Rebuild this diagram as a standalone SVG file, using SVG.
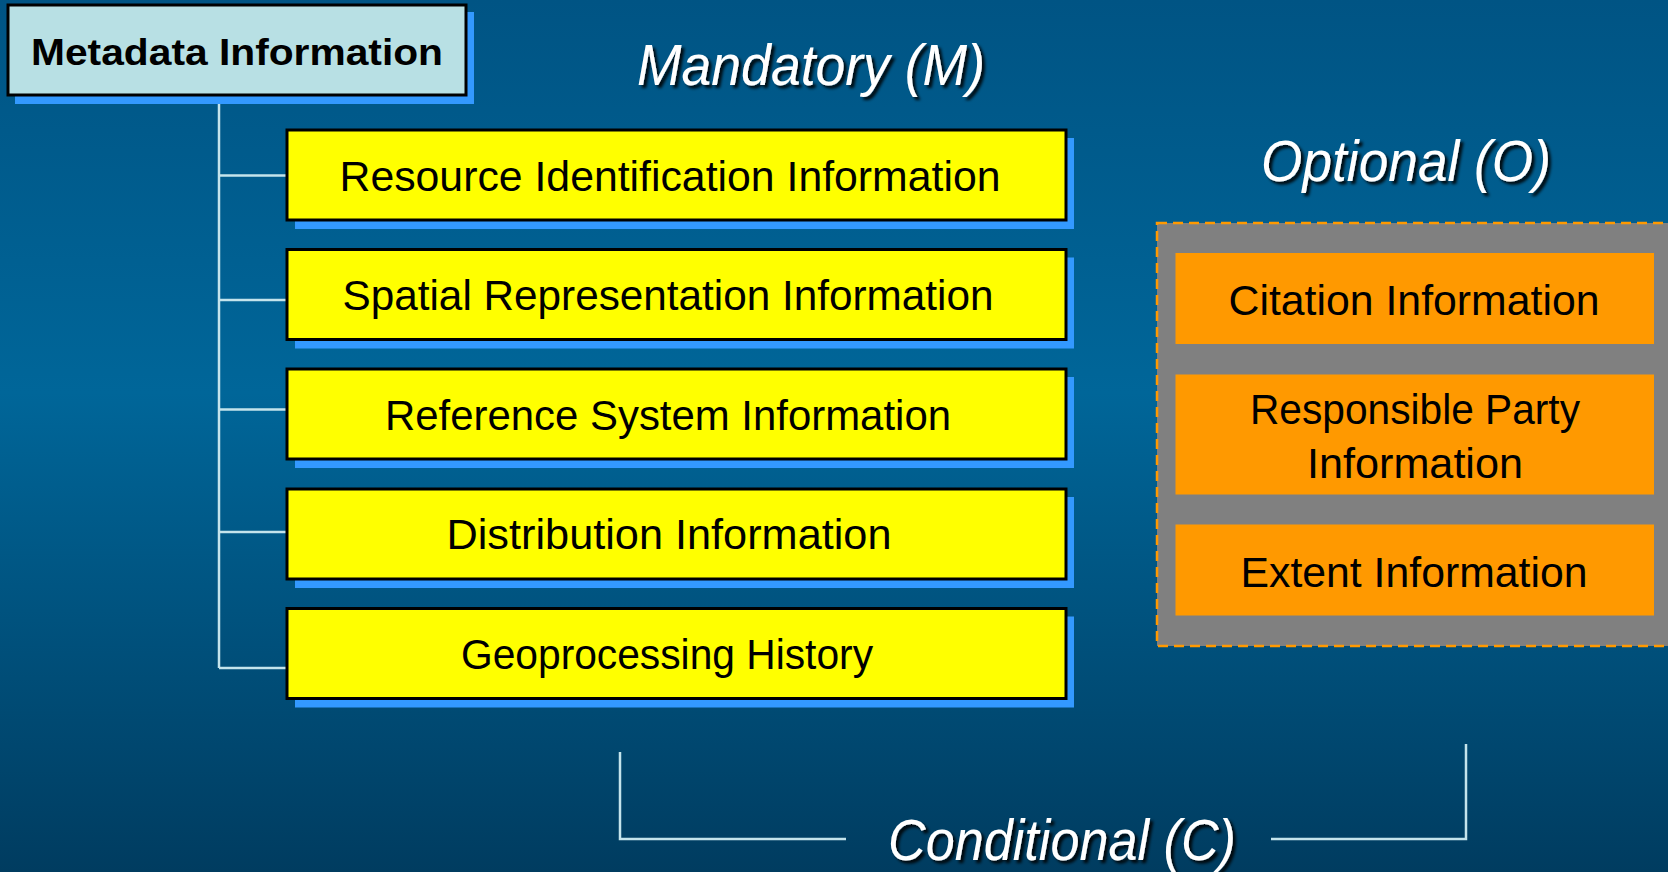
<svg xmlns="http://www.w3.org/2000/svg" width="1668" height="872" viewBox="0 0 1668 872">
<defs>
<linearGradient id="bg" x1="0" y1="0" x2="0" y2="1">
<stop offset="0" stop-color="#005484"/>
<stop offset="0.45" stop-color="#006699"/>
<stop offset="1" stop-color="#003c60"/>
</linearGradient>
<filter id="ts" x="-10%" y="-20%" width="130%" height="150%">
<feDropShadow dx="3" dy="3" stdDeviation="1.5" flood-color="#000" flood-opacity="0.9"/>
</filter>
</defs>
<style>
.title{font-family:"Liberation Sans",Arial,sans-serif;font-style:italic;font-size:58px;fill:#fff;text-anchor:middle;filter:url(#ts)}
.lbl{font-family:"Liberation Sans",Arial,sans-serif;font-size:42px;fill:#000;text-anchor:middle}
.shadow{fill:#3399ff}
.man{fill:#ffff00;stroke:#000;stroke-width:3}
.opt{fill:#ff9900}
.conn{stroke:#c4e4ec;stroke-width:2.5;fill:none}
</style>
<rect width="1668" height="872" fill="url(#bg)"/>

<g id="connectors">
<path class="conn" d="M219 96 V668 M219 175.5 H287 M219 300 H287 M219 409.5 H287 M219 532 H287 M219 668 H287"/>
<path class="conn" d="M620 752 V839 H846 M1271 839 H1466 V744"/>
</g>

<g id="metadata">
<rect class="shadow" x="15" y="12" width="459" height="92"/>
<rect x="8" y="5" width="458" height="90" fill="#b8e0e4" stroke="#000" stroke-width="3"/>
<text x="237" y="65" font-family="'Liberation Sans',Arial,sans-serif" font-weight="bold" font-size="37" text-anchor="middle" textLength="412" lengthAdjust="spacingAndGlyphs">Metadata Information</text>
</g>

<g id="mandatory-title"><text class="title" x="811" y="85" textLength="348" lengthAdjust="spacingAndGlyphs">Mandatory (M)</text></g>
<g id="optional-title"><text class="title" x="1406" y="181" textLength="290" lengthAdjust="spacingAndGlyphs">Optional (O)</text></g>
<g id="conditional-title"><text class="title" x="1062" y="860" textLength="348" lengthAdjust="spacingAndGlyphs">Conditional (C)</text></g>

<g id="resource">
<rect class="shadow" x="295" y="138" width="779" height="91"/>
<rect class="man" x="287" y="130" width="779" height="90"/>
<text class="lbl" x="670" y="191" textLength="661" lengthAdjust="spacingAndGlyphs">Resource Identification  Information</text>
</g>
<g id="spatial">
<rect class="shadow" x="295" y="257.5" width="779" height="91"/>
<rect class="man" x="287" y="249.5" width="779" height="90"/>
<text class="lbl" x="668" y="310" textLength="651" lengthAdjust="spacingAndGlyphs">Spatial Representation  Information</text>
</g>
<g id="reference">
<rect class="shadow" x="295" y="377" width="779" height="91"/>
<rect class="man" x="287" y="369" width="779" height="90"/>
<text class="lbl" x="668" y="430" textLength="566" lengthAdjust="spacingAndGlyphs">Reference System  Information</text>
</g>
<g id="distribution">
<rect class="shadow" x="295" y="497" width="779" height="91"/>
<rect class="man" x="287" y="489" width="779" height="90"/>
<text class="lbl" x="669" y="549" textLength="445" lengthAdjust="spacingAndGlyphs">Distribution Information</text>
</g>
<g id="geoprocessing">
<rect class="shadow" x="295" y="616.5" width="779" height="91"/>
<rect class="man" x="287" y="608.5" width="779" height="90"/>
<text class="lbl" x="667" y="669" textLength="412" lengthAdjust="spacingAndGlyphs">Geoprocessing History</text>
</g>

<g id="optional-group">
<rect x="1157" y="223" width="530" height="423" fill="#808080" stroke="#ff9900" stroke-width="2.5" stroke-dasharray="10,6"/>
</g>
<g id="citation">
<rect class="opt" x="1175.5" y="253" width="478.5" height="91"/>
<text class="lbl" x="1414" y="315" textLength="371" lengthAdjust="spacingAndGlyphs">Citation Information</text>
</g>
<g id="responsible">
<rect class="opt" x="1175.5" y="374.5" width="478.5" height="120"/>
<text class="lbl" x="1415" y="424" textLength="330" lengthAdjust="spacingAndGlyphs">Responsible Party</text>
<text class="lbl" x="1415" y="478" textLength="216" lengthAdjust="spacingAndGlyphs">Information</text>
</g>
<g id="extent">
<rect class="opt" x="1175.5" y="524.5" width="478.5" height="91"/>
<text class="lbl" x="1414" y="587" textLength="347" lengthAdjust="spacingAndGlyphs">Extent Information</text>
</g>
</svg>
